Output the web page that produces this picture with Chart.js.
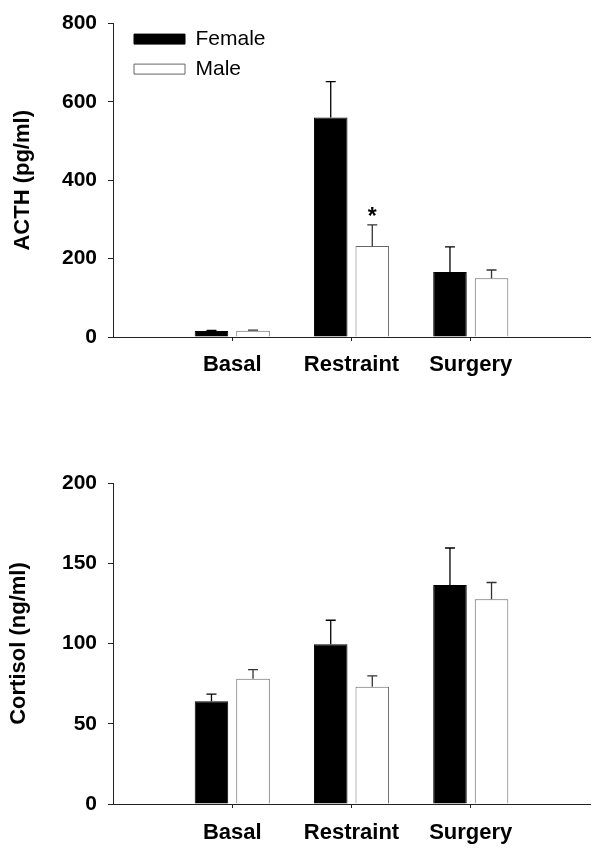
<!DOCTYPE html>
<html>
<head>
<meta charset="utf-8">
<script src="https://cdn.jsdelivr.net/npm/chart.js@4/dist/chart.umd.min.js"></script>
<style>
html,body{margin:0;padding:0;background:#fff;}
#w1{position:absolute;left:0;top:0;width:602px;height:400px;}
#w2{position:absolute;left:0;top:400px;width:602px;height:458px;}
</style>
</head>
<body>
<div id="w1"><canvas id="c1"></canvas></div>
<div id="w2"><canvas id="c2"></canvas></div>
<script>
// ---- data ----
const categories = ['Basal', 'Restraint', 'Surgery'];
const seriesNames = ['Female', 'Male'];

const acthFemale = [15, 560, 166];
const acthFemaleSem = [2, 92, 64];
const acthMale = [16, 232, 150];
const acthMaleSem = [1.5, 54, 21];
const acthMaleMarks = ['', '*', ''];
const acthTicks = [0, 200, 400, 600, 800];

const cortisolFemale = [64, 99.5, 136.5];
const cortisolFemaleSem = [4.5, 15, 23];
const cortisolMale = [78, 73, 127.5];
const cortisolMaleSem = [5.7, 6.8, 10.5];
const cortisolTicks = [0, 50, 100, 150, 200];

// ---- helpers ----
const FONT = "'Liberation Sans', Arial, Helvetica, sans-serif";
Chart.defaults.font.family = FONT;
Chart.defaults.color = '#000';

const pad = arr => [null, ...arr, null];
const paddedLabels = ['', ...categories, ''];

const errorBarPlugin = {
  id: 'errorBars',
  afterDatasetsDraw(chart) {
    const ctx = chart.ctx;
    const yScale = chart.scales.y;
    chart.data.datasets.forEach((ds, di) => {
      const meta = chart.getDatasetMeta(di);
      if (!ds.errors) return;
      meta.data.forEach((bar, i) => {
        const v = ds.data[i];
        const e = ds.errors[i];
        if (v == null || e == null) return;
        const x = bar.x;
        const yTop = yScale.getPixelForValue(v + e);
        const yBase = bar.y;
        ctx.save();
        ctx.strokeStyle = ds.errorColor || '#000';
        ctx.lineWidth = 1.3;
        ctx.beginPath();
        ctx.moveTo(x, yBase);
        ctx.lineTo(x, yTop);
        ctx.moveTo(x - 5, yTop);
        ctx.lineTo(x + 5, yTop);
        ctx.stroke();
        const mark = ds.marks ? ds.marks[i] : '';
        if (mark) {
          ctx.fillStyle = '#000';
          ctx.font = 'bold 23px ' + FONT;
          ctx.textAlign = 'center';
          ctx.textBaseline = 'alphabetic';
          ctx.fillText(mark, x, yTop - 1);
        }
        ctx.restore();
      });
    });
  }
};

const legendShiftPlugin = {
  id: 'legendShift',
  afterLayout(chart) {
    const lg = chart.legend;
    if (!lg || !lg.options.display) return;
    const w = lg.width, h = lg.height;
    lg.left = chart.chartArea.left + 12;
    lg.top = chart.chartArea.top - 4;
    lg.right = lg.left + w;
    lg.bottom = lg.top + h;
  }
};

function makeChart(canvasId, cfg) {
  const datasets = [
    {
      label: seriesNames[0],
      data: pad(cfg.female),
      errors: pad(cfg.femaleSem),
      errorColor: '#000',
      backgroundColor: '#000',
      borderColor: '#000',
      borderWidth: 1,
      barPercentage: 0.807,
      categoryPercentage: 0.697
    },
    {
      label: seriesNames[1],
      data: pad(cfg.male),
      errors: pad(cfg.maleSem),
      marks: cfg.maleMarks ? pad(cfg.maleMarks) : null,
      errorColor: '#333',
      backgroundColor: '#fff',
      borderColor: '#666',
      borderWidth: 1,
      barPercentage: 0.807,
      categoryPercentage: 0.697
    }
  ];
  return new Chart(document.getElementById(canvasId), {
    type: 'bar',
    data: { labels: paddedLabels, datasets },
    plugins: [errorBarPlugin, legendShiftPlugin],
    options: {
      responsive: true,
      maintainAspectRatio: false,
      devicePixelRatio: 1,
      animation: false,
      layout: { padding: { top: cfg.padTop, right: cfg.padRight, left: 0, bottom: 0 } },
      plugins: {
        tooltip: { enabled: false },
        legend: {
          display: cfg.legend,
          position: 'chartArea',
          align: 'start',
          labels: {
            boxWidth: 51,
            boxHeight: 10,
            padding: 9,
            color: '#000',
            font: { size: 21, family: FONT }
          }
        }
      },
      scales: {
        x: {
          offset: false,
          grid: {
            offset: false,
            drawOnChartArea: false,
            drawTicks: true,
            tickLength: 4,
            tickColor: c => (c.index >= 1 && c.index <= categories.length) ? '#222' : 'rgba(0,0,0,0)'
          },
          border: { display: true, color: '#222', width: 1 },
          ticks: {
            autoSkip: false,
            maxRotation: 0,
            minRotation: 0,
            padding: cfg.xPad,
            color: '#000',
            font: { size: 22, weight: 'bold', family: FONT }
          },
          afterFit: s => { s.height = cfg.xHeight; }
        },
        y: {
          min: cfg.ticks[0],
          max: cfg.ticks[cfg.ticks.length - 1],
          afterBuildTicks: s => { s.ticks = cfg.ticks.map(v => ({ value: v })); },
          grid: {
            drawOnChartArea: false,
            drawTicks: true,
            tickLength: 5,
            tickColor: '#222'
          },
          border: { display: true, color: '#222', width: 1 },
          ticks: {
            padding: 11,
            color: '#000',
            font: { size: 21, weight: 'bold', family: FONT }
          },
          title: {
            display: true,
            text: cfg.title,
            color: '#000',
            padding: { top: cfg.titlePad, bottom: 0 },
            font: { size: 22, weight: 'bold', family: FONT }
          },
          afterFit: s => { s.width = 113; }
        }
      }
    }
  });
}

makeChart('c1', {
  female: acthFemale, femaleSem: acthFemaleSem,
  male: acthMale, maleSem: acthMaleSem, maleMarks: acthMaleMarks,
  ticks: acthTicks, title: 'ACTH (pg/ml)',
  legend: true, padTop: 20, padRight: 12, xHeight: 63, xPad: 11, titlePad: 10
});

makeChart('c2', {
  female: cortisolFemale, femaleSem: cortisolFemaleSem,
  male: cortisolMale, maleSem: cortisolMaleSem, maleMarks: null,
  ticks: cortisolTicks, title: 'Cortisol (ng/ml)',
  legend: false, padTop: 83, padRight: 10, xHeight: 54, xPad: 12, titlePad: 6
});
</script>
</body>
</html>
